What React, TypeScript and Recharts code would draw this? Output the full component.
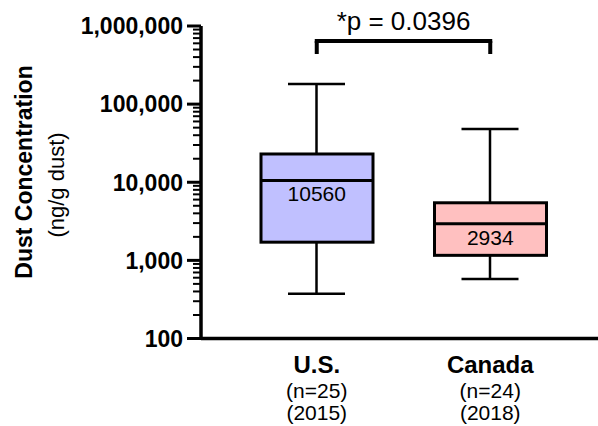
import { ComposedChart, Bar, Scatter, XAxis, YAxis, ReferenceLine } from 'recharts'

const FONT = '"Liberation Sans", Arial, sans-serif'

// groups
const categories = ['U.S.', 'Canada']
const sampleSizes = ['(n=25)', '(n=24)']
const years = ['(2015)', '(2018)']

// box plot stats (ng/g dust)
const whiskerLow = [373, 577]
const quartile1 = [1710, 1160]
const medians = [10560, 2934]
const quartile3 = [23000, 5460]
const whiskerHigh = [181000, 48000]
const boxColors = ['#c0c0ff', '#ffc0c0']

// axis
const majorTicks = [100, 1000, 10000, 100000, 1000000]
const minorSteps = [2, 3, 4, 5, 6, 7, 8, 9]
const allTicks = majorTicks.concat(
  majorTicks.slice(0, -1).flatMap((d) => minorSteps.map((m) => d * m))
)

// significance bracket
const bracketTop = 642000
const bracketFoot = 438000
const pLabel = '*p = 0.0396'

const data = categories.map((name, i) => ({
  name,
  whisker: [whiskerLow[i], whiskerHigh[i]],
  box: [quartile1[i], quartile3[i]],
  median: medians[i],
  color: boxColors[i],
}))

function WhiskerShape(props: any) {
  const { x, y, width, height } = props
  const top = Math.min(y, y + height)
  const bottom = Math.max(y, y + height)
  const cx = x + width / 2
  return (
    <g stroke="#000" strokeWidth={2.5}>
      <line x1={cx} x2={cx} y1={top} y2={bottom} />
      <line x1={x} x2={x + width} y1={top} y2={top} />
      <line x1={x} x2={x + width} y1={bottom} y2={bottom} />
    </g>
  )
}

function BoxShape(props: any) {
  const { x, y, width, height, payload } = props
  const top = Math.min(y, y + height)
  return (
    <rect
      x={x}
      y={top}
      width={width}
      height={Math.abs(height)}
      fill={payload.color}
      stroke="#000"
      strokeWidth={3}
    />
  )
}

function MedianShape(props: any) {
  const { cx, cy, payload } = props
  return (
    <g>
      <line x1={cx - 56} x2={cx + 56} y1={cy} y2={cy} stroke="#000" strokeWidth={3} />
      <text x={cx} y={cy + 21} textAnchor="middle" fontSize={21} fontFamily={FONT} fill="#000">
        {payload.median}
      </text>
    </g>
  )
}

function YTick(props: any) {
  const { x, y, payload } = props
  const major = majorTicks.includes(payload.value)
  return (
    <g>
      <line
        x1={x - (major ? 14 : 8)}
        x2={x}
        y1={y}
        y2={y}
        stroke="#000"
        strokeWidth={major ? 3 : 2}
      />
      {major && (
        <text
          x={x - 18}
          y={y}
          dy="0.36em"
          textAnchor="end"
          fontSize={23}
          fontWeight="bold"
          fontFamily={FONT}
          fill="#000"
        >
          {payload.value.toLocaleString('en-US')}
        </text>
      )}
    </g>
  )
}

function XTick(props: any) {
  const { x, y, payload } = props
  const i = categories.indexOf(payload.value)
  return (
    <g fontFamily={FONT} fill="#000" textAnchor="middle">
      <text x={x} y={y + 34} fontSize={24} fontWeight="bold">
        {payload.value}
      </text>
      <text x={x} y={y + 59} fontSize={21}>
        {sampleSizes[i]}
      </text>
      <text x={x} y={y + 81} fontSize={21}>
        {years[i]}
      </text>
    </g>
  )
}

function YLabel() {
  return (
    <g fontFamily={FONT} fill="#000" textAnchor="middle">
      <text transform="translate(32,172) rotate(-90)" fontSize={23} fontWeight="bold">
        Dust Concentration
      </text>
      <text transform="translate(64,185) rotate(-90)" fontSize={22}>
        (ng/g dust)
      </text>
    </g>
  )
}

export default function App() {
  const xPad = { left: 29, right: 21 }
  return (
    <div style={{ position: 'absolute', left: 0, top: 0, background: '#fff' }}>
      <ComposedChart
        width={598}
        height={426}
        data={data}
        margin={{ top: 26, right: 0, bottom: 0, left: 0 }}
      >
        <XAxis
          xAxisId="main"
          dataKey="name"
          type="category"
          padding={xPad}
          height={87.5}
          axisLine={{ stroke: '#000', strokeWidth: 3.5 }}
          tickLine={false}
          tickSize={0}
          tickMargin={0}
          tick={<XTick />}
        />
        <XAxis xAxisId="box" dataKey="name" type="category" padding={xPad} height={0} hide />
        <YAxis
          yAxisId="y"
          scale="log"
          type="number"
          domain={[100, 1000000]}
          ticks={allTicks}
          interval={0}
          width={201}
          axisLine={{ stroke: '#000', strokeWidth: 3.5 }}
          tickLine={false}
          tickSize={0}
          tickMargin={0}
          tick={<YTick />}
          label={{ content: () => <YLabel /> }}
        />
        <Bar
          xAxisId="main"
          yAxisId="y"
          dataKey="whisker"
          barSize={57}
          shape={<WhiskerShape />}
          isAnimationActive={false}
        />
        <Bar
          xAxisId="box"
          yAxisId="y"
          dataKey="box"
          barSize={112}
          shape={<BoxShape />}
          isAnimationActive={false}
        />
        <Scatter
          xAxisId="main"
          yAxisId="y"
          dataKey="median"
          shape={<MedianShape />}
          isAnimationActive={false}
        />
        <ReferenceLine
          xAxisId="main"
          yAxisId="y"
          segment={[
            { x: 'U.S.', y: bracketTop },
            { x: 'Canada', y: bracketTop },
          ]}
          stroke="#000"
          strokeWidth={4}
          strokeLinecap="square"
          label={{ value: pLabel, position: 'top', offset: 11, fontSize: 26, fill: '#000', fontFamily: FONT }}
        />
        <ReferenceLine
          xAxisId="main"
          yAxisId="y"
          segment={[
            { x: 'U.S.', y: bracketTop },
            { x: 'U.S.', y: bracketFoot },
          ]}
          stroke="#000"
          strokeWidth={4}
        />
        <ReferenceLine
          xAxisId="main"
          yAxisId="y"
          segment={[
            { x: 'Canada', y: bracketTop },
            { x: 'Canada', y: bracketFoot },
          ]}
          stroke="#000"
          strokeWidth={4}
        />
      </ComposedChart>
    </div>
  )
}
